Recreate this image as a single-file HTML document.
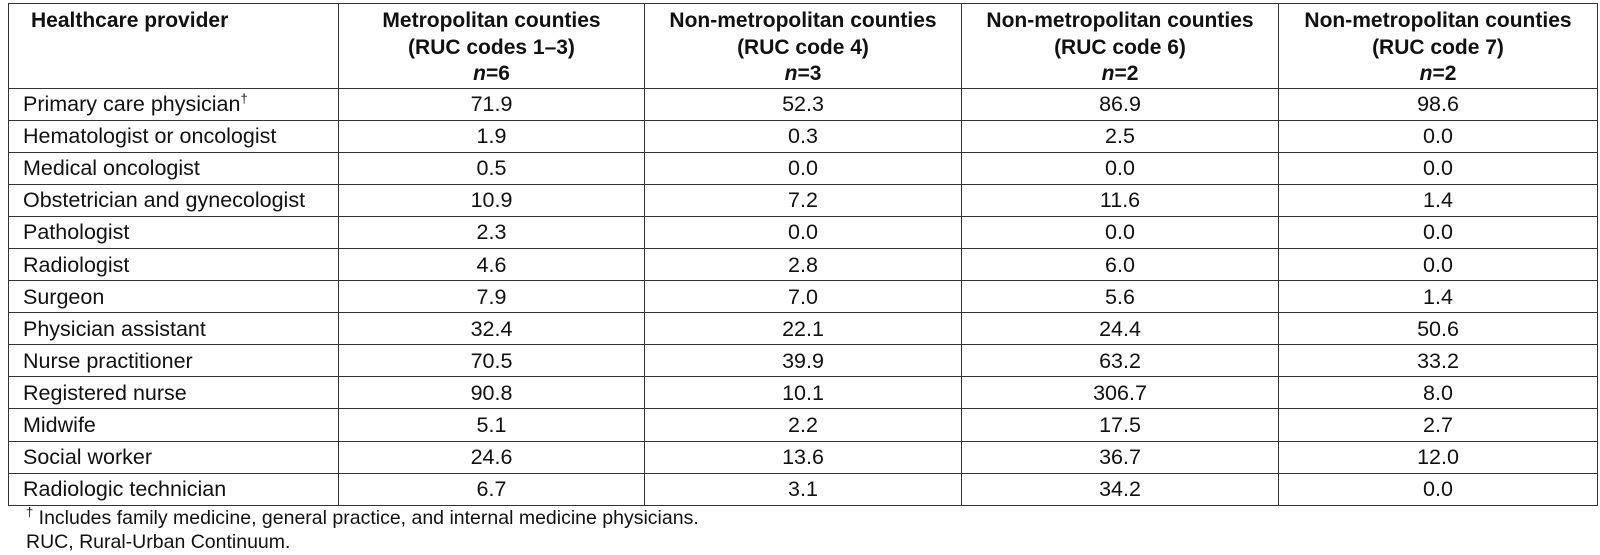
<!DOCTYPE html>
<html><head><style>
body{margin:0;background:#fff;width:1600px;height:555px;overflow:hidden;font-family:"Liberation Sans",Arial,sans-serif;color:#111;}
table{position:absolute;left:8px;top:3px;border-collapse:collapse;table-layout:fixed;width:1589px;}
td,th{border:1.5px solid #333;font-size:21.5px;padding:0 6px;height:32.1px;line-height:22px;box-sizing:border-box;}
th{font-weight:bold;vertical-align:top;padding-top:4px;height:82px;line-height:26.5px;font-size:21px;white-space:nowrap;}
th:first-child{text-align:left;padding-left:22px;}
td{text-align:center;}
td:first-child{text-align:left;padding-left:14px;white-space:nowrap;}
sup{font-size:13px;line-height:0;}
.f{position:absolute;left:26px;font-size:19.5px;line-height:22px;}
</style></head><body>
<table>
<colgroup><col style="width:330px"><col style="width:306px"><col style="width:317px"><col style="width:317px"><col style="width:319px"></colgroup>
<tr><th>Healthcare provider</th><th>Metropolitan counties<br>(RUC codes 1–3)<br><i>n</i>=6</th><th>Non-metropolitan counties<br>(RUC code 4)<br><i>n</i>=3</th><th>Non-metropolitan counties<br>(RUC code 6)<br><i>n</i>=2</th><th>Non-metropolitan counties<br>(RUC code 7)<br><i>n</i>=2</th></tr>
<tr><td>Primary care physician<sup>†</sup></td><td>71.9</td><td>52.3</td><td>86.9</td><td>98.6</td></tr>
<tr><td>Hematologist or oncologist</td><td>1.9</td><td>0.3</td><td>2.5</td><td>0.0</td></tr>
<tr><td>Medical oncologist</td><td>0.5</td><td>0.0</td><td>0.0</td><td>0.0</td></tr>
<tr><td>Obstetrician and gynecologist</td><td>10.9</td><td>7.2</td><td>11.6</td><td>1.4</td></tr>
<tr><td>Pathologist</td><td>2.3</td><td>0.0</td><td>0.0</td><td>0.0</td></tr>
<tr><td>Radiologist</td><td>4.6</td><td>2.8</td><td>6.0</td><td>0.0</td></tr>
<tr><td>Surgeon</td><td>7.9</td><td>7.0</td><td>5.6</td><td>1.4</td></tr>
<tr><td>Physician assistant</td><td>32.4</td><td>22.1</td><td>24.4</td><td>50.6</td></tr>
<tr><td>Nurse practitioner</td><td>70.5</td><td>39.9</td><td>63.2</td><td>33.2</td></tr>
<tr><td>Registered nurse</td><td>90.8</td><td>10.1</td><td>306.7</td><td>8.0</td></tr>
<tr><td>Midwife</td><td>5.1</td><td>2.2</td><td>17.5</td><td>2.7</td></tr>
<tr><td>Social worker</td><td>24.6</td><td>13.6</td><td>36.7</td><td>12.0</td></tr>
<tr><td>Radiologic technician</td><td>6.7</td><td>3.1</td><td>34.2</td><td>0.0</td></tr>
</table>
<div class="f" style="top:507px"><sup>†</sup> Includes family medicine, general practice, and internal medicine physicians.</div>
<div class="f" style="top:531px">RUC, Rural-Urban Continuum.</div>
</body></html>
